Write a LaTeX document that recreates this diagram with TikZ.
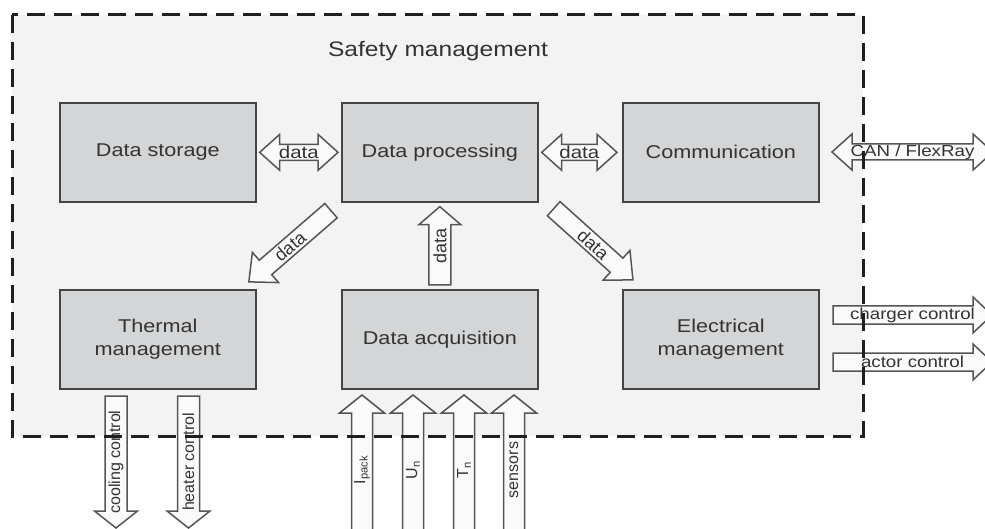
\documentclass[tikz,border=0pt]{standalone}
\usepackage{fontspec}
\setmainfont[FakeStretch=1.17]{Liberation Sans}
\newfontfamily\vfont{Liberation Sans}
\usetikzlibrary{calc}
\definecolor{bg}{HTML}{F3F3F3}
\definecolor{boxfill}{HTML}{D3D5D7}
\definecolor{boxline}{HTML}{444444}
\definecolor{txt}{HTML}{333333}
\definecolor{arrline}{HTML}{555555}
\definecolor{arrfill}{HTML}{FAFAFA}
\tikzset{
 block/.style={draw=boxline, fill=boxfill, line width=1.7pt, text=txt, align=center,
   font=\fontsize{18.5}{23}\selectfont, inner sep=0pt, anchor=north west,
   minimum width=196pt, minimum height=99pt},
 arr/.style={draw=arrline, fill=arrfill, line width=1.5pt, line join=miter},
 alabel/.style={text=txt, inner sep=0pt, font=\fontsize{16}{18}\selectfont},
 dlabel/.style={text=txt, inner sep=0pt, font=\fontsize{17.5}{19}\selectfont},
 vlabel/.style={text=txt, inner sep=0pt, font=\vfont\fontsize{16}{18}\selectfont},
 vdlabel/.style={text=txt, inner sep=0pt, font=\vfont\fontsize{18}{20}\selectfont},
 border/.style={draw=black!88, line width=3pt, dash pattern=on 18pt off 9pt},
}
% single block arrow: from, to, half shaft, half head, head length, label, label rotation, label style
\newcommand\sarrow[8]{%
\draw[arr] let \p1=(#1), \p2=(#2), \n1={atan2(\y2-\y1,\x2-\x1)}, \n2={veclen(\x2-\x1,\y2-\y1)} in
 {[shift={(\p1)}, rotate=\n1]
  (0,-#3) -- ({\n2-#5},-#3) -- ({\n2-#5},-#4) -- (\n2,0) -- ({\n2-#5},#4) -- ({\n2-#5},#3) -- (0,#3) -- cycle
  ({\n2/2},0) node[#8, rotate=#7] {#6}};%
}
% double block arrow
\newcommand\darrow[8]{%
\draw[arr] let \p1=(#1), \p2=(#2), \n1={atan2(\y2-\y1,\x2-\x1)}, \n2={veclen(\x2-\x1,\y2-\y1)} in
 {[shift={(\p1)}, rotate=\n1]
  (0,0) -- (#5,#4) -- (#5,#3) -- ({\n2-#5},#3) -- ({\n2-#5},#4) -- (\n2,0) -- ({\n2-#5},-#4) -- ({\n2-#5},-#3) -- (#5,-#3) -- (#5,-#4) -- cycle
  ({\n2/2},0) node[#8, rotate=#7] {#6}};%
}
\begin{document}
\begin{tikzpicture}[x=1pt,y=-1pt]
\useasboundingbox (0,0) rectangle (985,529);
\clip (0,0) rectangle (985,529);
\fill[white] (0,0) rectangle (985,529);
\fill[bg] (12,15) rectangle (863,436);
\node[text=txt, font=\fontsize{21}{24}\selectfont, inner sep=0pt] (title) at (438,51) {Safety management};

\node[block] (ds) at (59,102) {Data storage};
\node[block] (dp) at (341,102) {Data processing};
\node[block] (cm) at (622,102) {Communication};
\node[block] (tm) at (59,289) {Thermal\\management};
\node[block] (da) at (341,289) {Data acquisition};
\node[block] (em) at (622,289) {Electrical\\management};

% arrow end points
\coordinate (d1a) at ($(ds.east)+(3,0)$);
\coordinate (d1b) at ($(dp.west)+(-3,0)$);
\coordinate (d2a) at ($(dp.east)+(3,0)$);
\coordinate (d2b) at ($(cm.west)+(-5,0)$);
\coordinate (cana) at (832,152);
\coordinate (canb) at (993,152);
\coordinate (t1) at ($(dp.south west)+(-10,8)$);
\coordinate (t2) at ($(tm.north east)+(-8,-7)$);
\coordinate (v1) at ($(da.north)+(0,-4)$);
\coordinate (v2) at ($(dp.south)+(0,4)$);
\coordinate (e1) at ($(dp.south east)+(15,6)$);
\coordinate (e2) at ($(em.north west)+(11,-9)$);
\coordinate (c1) at (116,396);
\coordinate (c2) at (116,528);
\coordinate (h1) at (188.5,396);
\coordinate (h2) at (188.5,528);
\coordinate (i1a) at (362,545); \coordinate (i1b) at (362,395);
\coordinate (i2a) at (413,545); \coordinate (i2b) at (413,395);
\coordinate (i3a) at (464,545); \coordinate (i3b) at (464,395);
\coordinate (i4a) at (514,545); \coordinate (i4b) at (514,395);
\coordinate (ch1) at (833,315); \coordinate (ch2) at (992,315);
\coordinate (ac1) at (833,362); \coordinate (ac2) at (992,362);

\darrow{d1a}{d1b}{8}{18}{20}{data}{0}{dlabel}
\darrow{d2a}{d2b}{8}{18}{20}{data}{0}{dlabel}
\darrow{cana}{canb}{8}{18}{20}{CAN / FlexRay}{0}{alabel}
\sarrow{t1}{t2}{9.5}{20}{22}{data}{41}{vdlabel}
\sarrow{v1}{v2}{11}{21}{18}{data}{90}{vdlabel}
\sarrow{e1}{e2}{9.5}{20}{22}{data}{-41.7}{vdlabel}
\sarrow{c1}{c2}{11}{21.5}{17}{cooling control}{90}{vlabel}
\sarrow{h1}{h2}{11}{21.5}{17}{heater control}{90}{vlabel}
\sarrow{i1a}{i1b}{10.5}{22.5}{18}{I\textsubscript{pack}}{90}{vlabel}
\sarrow{i2a}{i2b}{10.5}{22.5}{18}{U\textsubscript{n}}{90}{vlabel}
\sarrow{i3a}{i3b}{10.5}{22.5}{18}{T\textsubscript{n}}{90}{vlabel}
\sarrow{i4a}{i4b}{10.5}{22.5}{18}{sensors}{90}{vlabel}
\sarrow{ch1}{ch2}{9}{18}{19}{charger control}{0}{alabel}
\sarrow{ac1}{ac2}{9}{18}{19}{actor control}{0}{alabel}

\draw[border] (12,15) rectangle (863,436);
\end{tikzpicture}
\end{document}
